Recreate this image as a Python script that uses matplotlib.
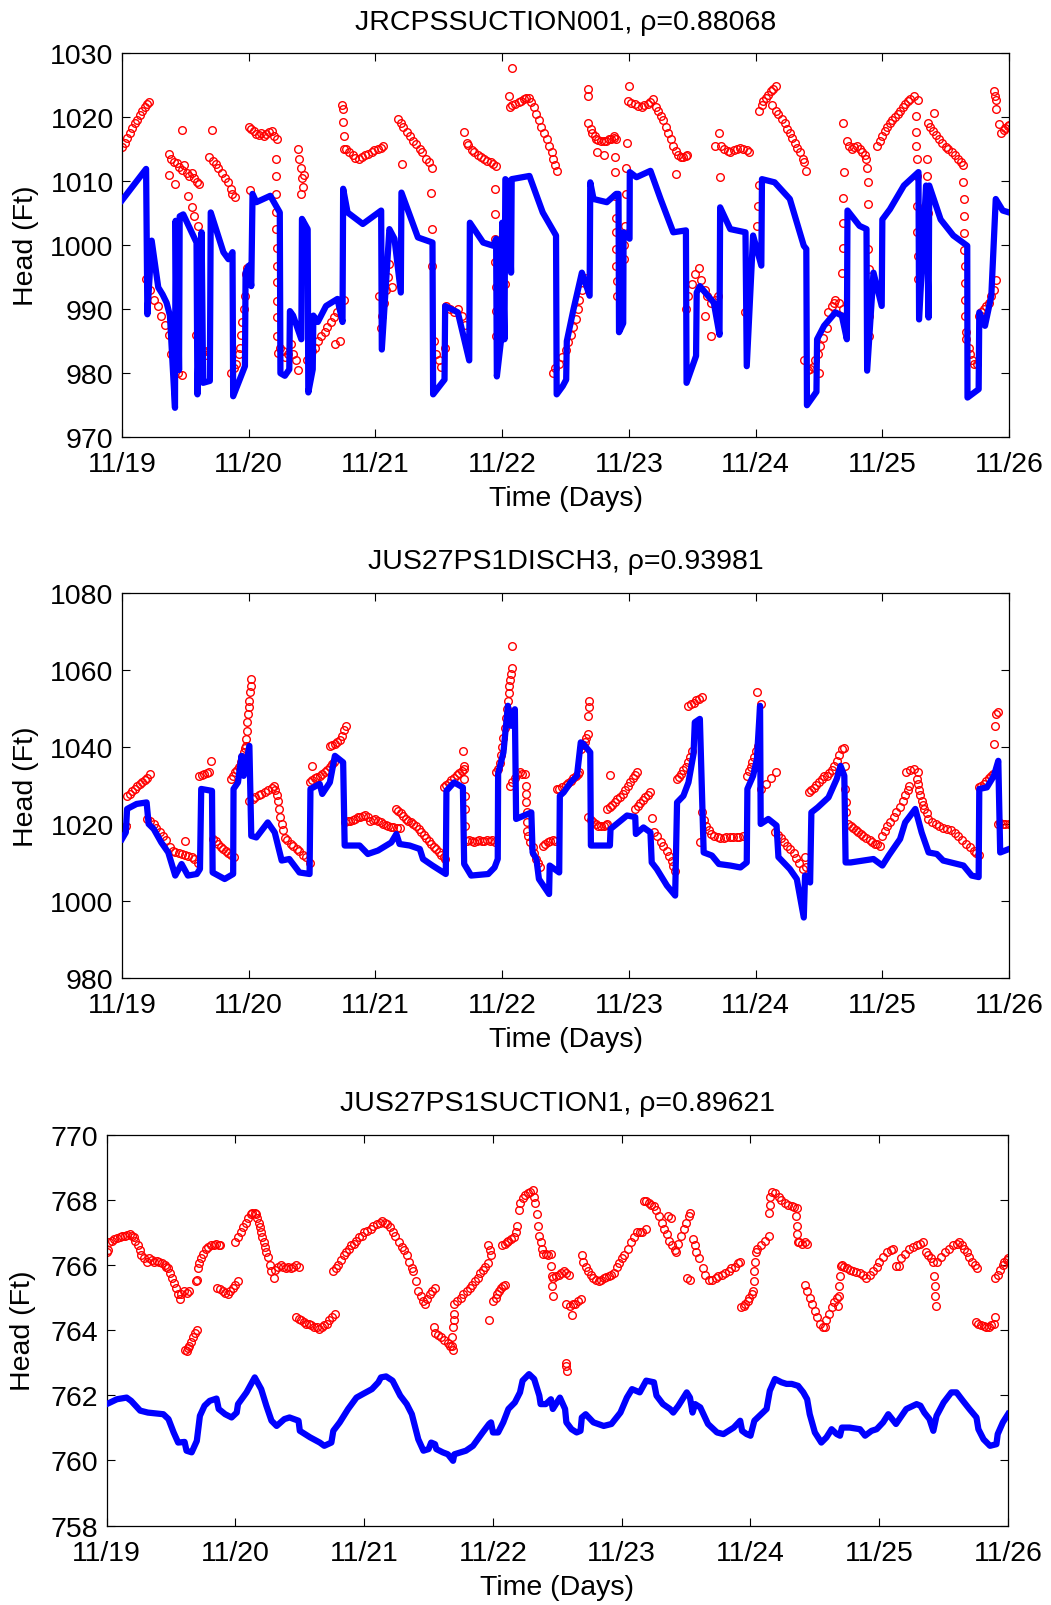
import numpy as np
import matplotlib
matplotlib.use('Agg')
import matplotlib.pyplot as plt

plt.rcParams['font.family'] = ['Liberation Sans', 'DejaVu Sans']

# x axis: days since 11/19
day_ticks = [0, 1, 2, 3, 4, 5, 6, 7]
day_labels = ['11/19', '11/20', '11/21', '11/22', '11/23', '11/24', '11/25', '11/26']

titles = ['JRCPSSUCTION001, \u03c1=0.88068',
          'JUS27PS1DISCH3, \u03c1=0.93981',
          'JUS27PS1SUCTION1, \u03c1=0.89621']

# ---------------- panel 1 : JRCPSSUCTION001 ----------------
sim1 = [(0.00, 1007.0), (0.19, 1011.9), (0.20, 989.2), (0.234, 1000.7), (0.286, 993.4),
        (0.32, 992.3), (0.352, 991.0), (0.378, 989.0), (0.418, 974.6), (0.423, 1003.8),
        (0.433, 981.0), (0.437, 1003.5), (0.45, 980.5), (0.455, 1004.5), (0.483, 1004.8),
        (0.588, 1000.4), (0.595, 976.7), (0.628, 1002.0), (0.64, 978.5), (0.693, 978.8),
        (0.70, 1005.1), (0.80, 998.9), (0.84, 997.8), (0.872, 998.9), (0.877, 976.4),
        (0.97, 981.1), (0.975, 995.7), (1.0, 996.8), (1.02, 993.6), (1.03, 1008.0),
        (1.06, 1006.7), (1.17, 1007.7), (1.245, 1005.1), (1.25, 980.0), (1.285, 979.6),
        (1.32, 980.6), (1.325, 989.7), (1.35, 989.0), (1.415, 985.3), (1.42, 1004.1),
        (1.465, 1002.5), (1.47, 977.0), (1.505, 980.6), (1.51, 989.0), (1.545, 988.0),
        (1.61, 990.5), (1.70, 991.6), (1.74, 988.0), (1.745, 1008.8), (1.78, 1005.1),
        (1.90, 1003.3), (2.045, 1005.4), (2.05, 983.7), (2.11, 1002.5), (2.15, 1001.0),
        (2.20, 992.6), (2.205, 1008.2), (2.335, 1001.2), (2.45, 1000.4), (2.455, 976.7),
        (2.545, 979.0), (2.55, 990.5), (2.60, 990.0), (2.65, 989.5), (2.74, 982.0),
        (2.745, 1003.5), (2.85, 1000.4), (2.93, 999.9), (2.952, 1001.0), (2.958, 979.5),
        (2.99, 985.0), (3.0, 1003.5), (3.018, 985.3), (3.025, 1010.3), (3.05, 1009.8),
        (3.07, 995.7), (3.075, 1010.3), (3.215, 1010.8), (3.32, 1005.1), (3.425, 1001.5),
        (3.43, 976.7), (3.478, 978.0), (3.505, 979.0), (3.51, 985.0), (3.563, 990.0),
        (3.629, 995.7), (3.69, 992.1), (3.695, 1009.8), (3.721, 1007.2), (3.826, 1006.7),
        (3.90, 1008.0), (3.918, 1008.0), (3.922, 986.4), (3.955, 987.8), (3.958, 1002.0),
        (4.005, 1001.0), (4.007, 1011.4), (4.06, 1010.6), (4.17, 1011.6), (4.25, 1007.2),
        (4.35, 1002.0), (4.45, 1002.3), (4.455, 978.5), (4.53, 982.7), (4.535, 992.6),
        (4.56, 993.6), (4.67, 991.0), (4.715, 986.0), (4.72, 1005.9), (4.80, 1002.5),
        (4.92, 1002.0), (4.93, 981.1), (4.98, 1001.5), (5.045, 996.8), (5.05, 1010.3),
        (5.15, 1009.8), (5.27, 1007.2), (5.38, 999.9), (5.40, 999.4), (5.405, 975.0),
        (5.48, 977.1), (5.485, 985.3), (5.54, 987.4), (5.63, 989.5), (5.68, 989.0),
        (5.72, 985.3), (5.725, 1005.4), (5.82, 1003.0), (5.875, 1002.5), (5.88, 980.4),
        (5.93, 995.7), (5.995, 990.5), (6.0, 1004.0), (6.06, 1005.6), (6.17, 1009.3),
        (6.285, 1011.4), (6.29, 988.4), (6.345, 1009.3), (6.365, 988.7), (6.37, 1009.3),
        (6.46, 1004.0), (6.56, 1001.5), (6.67, 999.9), (6.672, 976.2), (6.76, 977.5),
        (6.765, 989.5), (6.81, 987.4), (6.86, 992.1), (6.895, 1007.2), (6.95, 1005.4),
        (7.0, 1005.1)]

obs1 = [(0.00, 1015.3), (0.02, 1016.0), (0.04, 1016.8), (0.06, 1017.5), (0.08, 1018.3),
        (0.10, 1019.0), (0.12, 1019.6), (0.14, 1020.3), (0.16, 1021.0), (0.18, 1021.5),
        (0.20, 1022.0), (0.21, 1022.3),
        (0.19, 994.7), (0.22, 993.0), (0.25, 991.5), (0.28, 990.5), (0.31, 989.0),
        (0.34, 987.5), (0.37, 986.0), (0.39, 983.0), (0.41, 981.5), (0.44, 980.0), (0.47, 979.8),
        (0.37, 1014.2), (0.39, 1013.5), (0.41, 1013.0), (0.43, 1012.8), (0.45, 1012.2),
        (0.47, 1011.8), (0.49, 1012.5), (0.51, 1011.3), (0.53, 1010.8), (0.55, 1011.2),
        (0.57, 1010.5), (0.59, 1009.8), (0.61, 1009.5), (0.37, 1011.0), (0.42, 1009.5),
        (0.47, 1018.0), (0.52, 1007.7), (0.55, 1006.0), (0.57, 1004.5), (0.60, 1003.0), (0.71, 1018.0),
        (0.58, 986.0), (0.60, 984.5), (0.62, 983.2), (0.64, 983.5), (0.66, 982.8), (0.67, 983.5),
        (0.69, 1013.7), (0.72, 1013.2), (0.74, 1012.6), (0.76, 1012.0), (0.79, 1011.2),
        (0.81, 1010.5), (0.84, 1009.8), (0.86, 1008.8), (0.87, 1008.0), (0.89, 1007.5),
        (0.86, 980.0), (0.88, 980.8), (0.90, 981.5), (0.92, 983.0), (0.93, 984.0), (0.94, 986.0),
        (0.95, 988.0), (0.96, 990.0), (0.97, 992.0), (0.98, 995.5), (0.99, 996.5),
        (1.00, 1018.5), (1.02, 1018.2), (1.04, 1017.8), (1.06, 1017.3), (1.08, 1017.2),
        (1.10, 1017.5), (1.12, 1017.0), (1.14, 1017.3), (1.16, 1017.6), (1.18, 1017.8),
        (1.20, 1017.0), (1.22, 1016.5), (1.01, 1008.6),
        (1.215, 1013.4), (1.216, 1010.8), (1.217, 1008.0), (1.218, 1005.1), (1.219, 1002.5),
        (1.22, 999.6), (1.221, 996.8), (1.222, 994.2), (1.223, 991.3), (1.224, 988.7), (1.225, 985.8),
        (1.23, 983.2), (1.25, 984.0), (1.27, 983.5), (1.29, 982.5), (1.31, 983.0), (1.33, 984.5),
        (1.35, 983.0), (1.37, 982.0), (1.39, 980.5),
        (1.39, 1015.0), (1.40, 1013.5), (1.41, 1012.0), (1.42, 1010.5), (1.43, 1009.0),
        (1.41, 1008.0), (1.44, 1011.0),
        (1.46, 982.0), (1.48, 982.8), (1.50, 983.5), (1.52, 984.0), (1.55, 985.0), (1.57, 985.8),
        (1.60, 986.5), (1.62, 987.2), (1.65, 988.0), (1.67, 988.8), (1.70, 989.5), (1.72, 990.5),
        (1.75, 991.5), (1.68, 984.5), (1.72, 985.0),
        (1.735, 1021.8), (1.74, 1021.3), (1.745, 1019.2), (1.75, 1017.1), (1.755, 1015.0),
        (1.77, 1015.0), (1.79, 1014.5), (1.82, 1014.0), (1.84, 1013.6), (1.87, 1013.5),
        (1.89, 1013.7), (1.92, 1014.0), (1.94, 1014.3), (1.97, 1014.5), (1.99, 1014.8),
        (2.02, 1015.0), (2.04, 1015.2), (2.06, 1015.5),
        (2.03, 992.0), (2.05, 989.0), (2.07, 991.0), (2.08, 993.0), (2.10, 995.0), (2.11, 997.0),
        (2.13, 993.5), (2.04, 987.0),
        (2.18, 1019.7), (2.20, 1019.0), (2.22, 1018.5), (2.25, 1017.6), (2.27, 1017.0),
        (2.30, 1016.3), (2.32, 1015.8), (2.35, 1015.0), (2.37, 1014.5), (2.40, 1013.5),
        (2.42, 1013.0), (2.45, 1012.0), (2.21, 1012.7),
        (2.44, 1008.2), (2.445, 1002.5), (2.45, 996.8),
        (2.46, 985.0), (2.48, 983.0), (2.50, 982.0), (2.52, 981.0), (2.55, 984.0),
        (2.56, 990.5), (2.59, 990.0), (2.62, 989.5), (2.65, 990.0), (2.68, 989.0), (2.71, 987.5),
        (2.70, 1017.6), (2.72, 1016.0), (2.73, 1015.6), (2.76, 1014.8), (2.78, 1014.5),
        (2.81, 1014.0), (2.83, 1013.7), (2.86, 1013.4), (2.88, 1013.2), (2.91, 1012.9),
        (2.93, 1012.6), (2.95, 1012.3),
        (2.94, 1008.8), (2.942, 1004.8), (2.944, 1000.9), (2.946, 997.3), (2.948, 993.4),
        (2.95, 989.7), (2.952, 985.8),
        (2.96, 1000.0), (2.98, 998.0), (3.00, 996.0), (3.02, 994.0), (3.03, 998.0),
        (3.05, 1023.3), (3.06, 1021.5), (3.08, 1021.8), (3.10, 1022.0), (3.13, 1022.3),
        (3.15, 1022.5), (3.17, 1022.8), (3.19, 1023.0), (3.075, 1027.6),
        (3.21, 1023.0), (3.23, 1022.3), (3.25, 1021.5), (3.27, 1020.5), (3.29, 1019.5),
        (3.31, 1018.5), (3.33, 1017.5), (3.35, 1016.5), (3.37, 1015.5), (3.39, 1014.5),
        (3.40, 1013.5), (3.42, 1012.5), (3.43, 1011.5),
        (3.40, 980.0), (3.42, 980.8), (3.45, 981.5), (3.47, 982.5), (3.50, 983.7), (3.52, 984.8),
        (3.54, 986.0), (3.56, 987.2), (3.58, 988.5), (3.60, 990.0), (3.61, 991.5), (3.63, 993.0),
        (3.65, 994.8),
        (3.675, 1024.4), (3.68, 1023.3),
        (3.68, 1019.0), (3.70, 1018.2), (3.71, 1017.5), (3.73, 1017.0), (3.74, 1016.5),
        (3.76, 1016.4), (3.78, 1016.3), (3.80, 1016.2), (3.82, 1016.3), (3.84, 1016.5),
        (3.86, 1016.5), (3.88, 1016.8), (3.90, 1016.5), (3.75, 1014.5), (3.80, 1014.0),
        (3.885, 1017.0), (3.888, 1013.7), (3.89, 1011.4), (3.893, 1007.7), (3.895, 1004.3),
        (3.897, 1002.0), (3.90, 999.4), (3.902, 996.8), (3.904, 994.4), (3.906, 992.1),
        (3.96, 997.8), (3.965, 1000.0), (3.97, 1003.0), (3.975, 1008.0), (3.98, 1012.0), (3.985, 1016.0),
        (3.99, 1022.5), (4.00, 1024.9), (4.02, 1022.2), (4.05, 1022.0), (4.07, 1021.7),
        (4.10, 1021.5), (4.12, 1021.8), (4.15, 1022.0), (4.17, 1022.3), (4.19, 1022.8),
        (4.21, 1021.5), (4.23, 1021.0), (4.25, 1020.2), (4.27, 1019.5), (4.29, 1018.5),
        (4.31, 1017.5), (4.33, 1016.5), (4.35, 1015.5), (4.37, 1014.7), (4.39, 1014.0),
        (4.41, 1013.8), (4.43, 1013.8), (4.45, 1013.9), (4.46, 1014.0), (4.37, 1011.1),
        (4.45, 990.0), (4.47, 992.0), (4.50, 994.0), (4.52, 995.5), (4.55, 996.5), (4.57, 994.5),
        (4.60, 993.0), (4.62, 992.0), (4.65, 991.0), (4.68, 991.5), (4.70, 992.0), (4.65, 985.8),
        (4.60, 989.0),
        (4.68, 1015.5), (4.71, 1017.5), (4.73, 1015.5), (4.75, 1015.0), (4.78, 1014.7),
        (4.80, 1014.5), (4.83, 1014.8), (4.85, 1015.0), (4.88, 1015.2), (4.90, 1015.0),
        (4.93, 1014.8), (4.95, 1014.5), (4.72, 1010.6),
        (4.92, 989.5), (5.01, 1003.0), (5.02, 1006.1), (5.03, 1009.4),
        (5.03, 1021.0), (5.05, 1021.8), (5.06, 1022.5), (5.08, 1023.0), (5.10, 1023.5),
        (5.12, 1024.0), (5.14, 1024.4), (5.16, 1024.8),
        (5.13, 1021.8), (5.16, 1021.0), (5.18, 1020.5), (5.21, 1019.7), (5.23, 1019.0),
        (5.25, 1018.2), (5.27, 1017.5), (5.29, 1016.7), (5.31, 1016.0), (5.33, 1015.2),
        (5.35, 1014.5), (5.37, 1013.5), (5.38, 1013.0), (5.40, 1011.5),
        (5.38, 982.0), (5.41, 980.5), (5.43, 980.7), (5.45, 981.0), (5.47, 982.0), (5.49, 983.0),
        (5.51, 984.2), (5.53, 985.5), (5.56, 987.0), (5.50, 980.0),
        (5.57, 989.5), (5.60, 990.5), (5.62, 991.0), (5.63, 991.5), (5.66, 991.0), (5.69, 990.0),
        (5.685, 995.7), (5.688, 999.6), (5.69, 1003.5), (5.692, 1007.3), (5.695, 1011.4),
        (5.69, 1019.0), (5.72, 1016.2), (5.74, 1015.5), (5.76, 1015.0), (5.78, 1015.3),
        (5.80, 1015.5), (5.82, 1015.0), (5.84, 1014.5), (5.86, 1014.0), (5.87, 1013.5), (5.88, 1012.0),
        (5.885, 1009.8), (5.887, 1006.4), (5.889, 999.4), (5.891, 996.3), (5.893, 992.6),
        (5.895, 989.0), (5.897, 985.8),
        (5.96, 1015.5), (5.98, 1016.2), (6.00, 1017.0), (6.02, 1017.8), (6.04, 1018.5),
        (6.06, 1019.0), (6.08, 1019.5), (6.10, 1020.0), (6.12, 1020.5), (6.14, 1021.0),
        (6.16, 1021.5), (6.18, 1022.0), (6.20, 1022.5), (6.22, 1022.8), (6.25, 1023.3), (6.28, 1022.6),
        (6.265, 1020.2), (6.267, 1017.6), (6.269, 1015.5), (6.271, 1013.4), (6.273, 1010.8),
        (6.275, 1006.1), (6.277, 1002.0), (6.279, 998.3), (6.281, 994.7),
        (6.36, 1019.0), (6.38, 1018.5), (6.40, 1017.8), (6.42, 1017.2), (6.45, 1016.5),
        (6.47, 1016.0), (6.50, 1015.3), (6.52, 1015.0), (6.55, 1014.5), (6.57, 1014.0),
        (6.60, 1013.5), (6.62, 1013.0), (6.64, 1012.5), (6.41, 1020.7),
        (6.352, 1013.4), (6.354, 1010.8), (6.356, 1008.6), (6.358, 1005.0),
        (6.64, 1009.8), (6.642, 1007.2), (6.644, 1004.5), (6.646, 1001.9), (6.648, 999.3),
        (6.65, 996.7), (6.652, 994.1), (6.654, 991.5), (6.656, 988.9), (6.658, 986.4),
        (6.66, 985.3), (6.68, 984.0), (6.69, 983.0), (6.71, 982.0), (6.72, 981.5), (6.75, 981.5),
        (6.76, 989.0), (6.78, 989.5), (6.80, 990.0), (6.82, 990.5), (6.84, 991.0), (6.86, 992.0),
        (6.88, 993.0), (6.90, 994.5),
        (6.885, 1024.1), (6.89, 1023.3), (6.895, 1022.6), (6.90, 1021.2),
        (6.92, 1018.9), (6.94, 1017.5), (6.96, 1018.0), (6.97, 1018.3), (6.99, 1018.6), (7.00, 1018.8)]

# ---------------- panel 2 : JUS27PS1DISCH3 ----------------
sim2 = [(0.0, 1016.2), (0.03, 1017.9), (0.04, 1024.0), (0.115, 1025.3), (0.194, 1025.7),
        (0.21, 1020.1), (0.25, 1018.8), (0.31, 1015.3), (0.365, 1012.7), (0.42, 1006.7),
        (0.47, 1009.7), (0.52, 1006.7), (0.59, 1007.1), (0.615, 1008.4), (0.625, 1029.2),
        (0.71, 1028.7), (0.715, 1007.5), (0.81, 1005.8), (0.877, 1007.1), (0.88, 1029.2),
        (0.915, 1030.9), (0.943, 1037.8), (0.96, 1032.6), (1.005, 1040.4), (1.02, 1017.0),
        (1.06, 1016.6), (1.15, 1020.5), (1.205, 1017.9), (1.26, 1010.6), (1.32, 1011.0),
        (1.40, 1007.5), (1.48, 1007.1), (1.487, 1029.2), (1.56, 1030.5), (1.58, 1027.9),
        (1.64, 1030.9), (1.68, 1037.8), (1.745, 1036.1), (1.757, 1014.5), (1.875, 1014.5),
        (1.94, 1012.3), (2.02, 1013.2), (2.125, 1015.3), (2.165, 1017.5), (2.19, 1014.9),
        (2.27, 1014.5), (2.35, 1013.6), (2.375, 1011.0), (2.45, 1009.3), (2.555, 1007.1),
        (2.56, 1028.7), (2.62, 1030.9), (2.69, 1029.6), (2.70, 1009.7), (2.755, 1006.7),
        (2.89, 1007.1), (2.94, 1008.8), (2.965, 1011.0), (2.968, 1033.1), (3.01, 1038.7),
        (3.03, 1045.6), (3.045, 1050.8), (3.07, 1045.6), (3.10, 1049.9), (3.11, 1021.4),
        (3.23, 1023.1), (3.24, 1012.7), (3.27, 1011.0), (3.29, 1005.8), (3.37, 1001.9),
        (3.375, 1009.3), (3.45, 1007.5), (3.455, 1027.4), (3.485, 1028.3), (3.54, 1030.9),
        (3.59, 1032.6), (3.62, 1041.3), (3.64, 1040.9), (3.695, 1038.7), (3.70, 1014.5),
        (3.85, 1014.5), (3.855, 1018.8), (3.985, 1022.3), (4.05, 1021.9), (4.055, 1017.5),
        (4.115, 1019.2), (4.17, 1017.9), (4.18, 1010.1), (4.22, 1008.4), (4.30, 1004.1),
        (4.365, 1001.5), (4.38, 1025.7), (4.43, 1027.4), (4.47, 1030.9), (4.51, 1038.3),
        (4.52, 1046.5), (4.56, 1047.4), (4.59, 1012.7), (4.655, 1011.9), (4.71, 1009.7),
        (4.80, 1009.3), (4.88, 1008.8), (4.93, 1010.1), (4.935, 1029.2), (4.98, 1032.6),
        (5.01, 1037.0), (5.035, 1050.8), (5.04, 1020.1), (5.10, 1021.4), (5.165, 1019.7),
        (5.18, 1011.5), (5.27, 1008.4), (5.325, 1005.8), (5.38, 995.8), (5.39, 1006.7),
        (5.43, 1004.9), (5.44, 1023.1), (5.49, 1024.4), (5.575, 1027.0), (5.64, 1031.8),
        (5.67, 1035.2), (5.70, 1032.6), (5.71, 1010.1), (5.75, 1010.1), (5.93, 1011.0),
        (6.0, 1009.3), (6.05, 1011.9), (6.14, 1016.2), (6.18, 1020.5), (6.26, 1024.0),
        (6.31, 1017.9), (6.365, 1012.7), (6.43, 1012.3), (6.48, 1010.6), (6.64, 1009.3),
        (6.705, 1006.7), (6.76, 1006.3), (6.765, 1029.2), (6.825, 1029.6), (6.88, 1032.6),
        (6.915, 1036.5), (6.93, 1012.7), (7.0, 1013.6)]

obs2 = [(0.00, 1017.9), (0.015, 1018.8), (0.03, 1019.7),
        (0.04, 1027.4), (0.06, 1028.0), (0.08, 1028.7), (0.10, 1029.3), (0.12, 1029.9),
        (0.14, 1030.5), (0.16, 1031.0), (0.18, 1031.5), (0.20, 1032.0), (0.22, 1033.0),
        (0.20, 1021.4), (0.22, 1021.0), (0.25, 1020.0), (0.27, 1019.0), (0.30, 1018.0),
        (0.32, 1017.0), (0.35, 1016.0), (0.38, 1014.0),
        (0.40, 1013.0), (0.42, 1012.8), (0.45, 1012.6), (0.47, 1012.3), (0.50, 1012.0),
        (0.52, 1011.8), (0.55, 1011.5), (0.57, 1011.0), (0.60, 1010.0), (0.50, 1015.8),
        (0.61, 1032.6), (0.63, 1032.8), (0.65, 1033.0), (0.67, 1033.3), (0.69, 1033.5), (0.70, 1036.5),
        (0.72, 1016.2), (0.74, 1015.6), (0.76, 1015.0), (0.78, 1014.2), (0.80, 1013.5),
        (0.82, 1013.0), (0.84, 1012.5), (0.86, 1012.0), (0.88, 1011.5),
        (0.86, 1031.8), (0.875, 1032.6), (0.89, 1033.5), (0.905, 1034.2), (0.92, 1035.0),
        (0.935, 1036.3), (0.95, 1037.5), (0.96, 1038.7), (0.97, 1039.8),
        (0.975, 1040.4), (0.98, 1042.2), (0.985, 1044.3), (0.99, 1046.5), (0.995, 1048.7),
        (1.0, 1050.4), (1.005, 1052.1), (1.01, 1054.3), (1.015, 1056.0), (1.02, 1057.7),
        (1.00, 1026.1), (1.03, 1026.5), (1.05, 1027.0), (1.08, 1027.5), (1.10, 1028.0),
        (1.13, 1028.5), (1.15, 1029.0), (1.18, 1029.5), (1.20, 1029.9),
        (1.21, 1029.0), (1.22, 1027.5), (1.23, 1026.0), (1.24, 1024.0), (1.25, 1022.0),
        (1.26, 1020.0), (1.27, 1018.5), (1.29, 1016.5),
        (1.30, 1016.0), (1.33, 1015.0), (1.35, 1014.5), (1.38, 1013.7), (1.40, 1013.0),
        (1.43, 1012.0), (1.45, 1011.5), (1.48, 1010.0),
        (1.48, 1031.0), (1.50, 1031.5), (1.52, 1032.0), (1.54, 1032.2), (1.56, 1032.5),
        (1.58, 1033.0), (1.60, 1033.5), (1.62, 1034.2), (1.64, 1035.0), (1.66, 1035.8),
        (1.67, 1036.3), (1.50, 1035.2),
        (1.645, 1040.4), (1.66, 1040.7), (1.68, 1041.0), (1.70, 1041.5), (1.72, 1042.0),
        (1.735, 1043.0), (1.75, 1044.5), (1.765, 1045.6),
        (1.76, 1020.5), (1.78, 1020.8), (1.80, 1021.0), (1.82, 1021.2), (1.84, 1021.5),
        (1.86, 1021.8), (1.88, 1022.0), (1.90, 1022.2), (1.92, 1022.5), (1.94, 1021.8),
        (1.96, 1021.0), (1.98, 1021.2), (2.00, 1021.5),
        (2.02, 1021.0), (2.04, 1020.5), (2.06, 1020.0), (2.08, 1019.8), (2.10, 1019.5),
        (2.12, 1019.4), (2.14, 1019.3), (2.17, 1019.1), (2.19, 1019.0),
        (2.16, 1024.0), (2.18, 1023.5), (2.20, 1023.0), (2.22, 1022.2), (2.24, 1021.5),
        (2.26, 1021.0), (2.28, 1020.5), (2.30, 1020.0), (2.32, 1019.5), (2.34, 1018.8),
        (2.36, 1018.0), (2.38, 1017.2), (2.40, 1016.5), (2.42, 1015.7), (2.44, 1015.0),
        (2.46, 1014.2), (2.48, 1013.5), (2.50, 1012.7), (2.52, 1012.0), (2.54, 1011.5), (2.55, 1011.0),
        (2.54, 1029.6), (2.56, 1030.2), (2.58, 1030.8), (2.60, 1031.4), (2.62, 1032.0),
        (2.64, 1032.7), (2.66, 1033.4), (2.68, 1033.8), (2.70, 1034.3), (2.69, 1039.1),
        (2.70, 1035.2), (2.702, 1031.8), (2.704, 1027.4), (2.706, 1024.0), (2.708, 1019.7),
        (2.72, 1015.8), (2.74, 1016.0), (2.76, 1015.7), (2.78, 1015.5), (2.80, 1015.8),
        (2.82, 1016.0), (2.84, 1015.8), (2.86, 1015.6), (2.88, 1016.0), (2.90, 1015.8),
        (2.92, 1016.0), (2.94, 1015.5),
        (2.95, 1033.5), (2.965, 1034.5), (2.98, 1036.0), (2.99, 1038.0), (3.00, 1040.0),
        (3.01, 1042.5), (3.02, 1045.0), (3.03, 1047.5), (3.04, 1050.0), (3.045, 1052.0),
        (3.05, 1054.0), (3.055, 1056.0), (3.06, 1057.5), (3.07, 1059.0), (3.08, 1060.5), (3.08, 1066.4),
        (3.06, 1030.0), (3.08, 1031.0), (3.10, 1032.0), (3.12, 1033.0), (3.14, 1033.5),
        (3.16, 1033.2), (3.18, 1033.0),
        (3.185, 1030.0), (3.187, 1027.9), (3.19, 1025.7), (3.192, 1023.1), (3.195, 1020.5), (3.197, 1018.4),
        (3.20, 1017.0), (3.22, 1015.5), (3.24, 1014.0), (3.255, 1012.5), (3.27, 1011.0),
        (3.285, 1010.0), (3.30, 1009.0),
        (3.32, 1014.5), (3.34, 1015.0), (3.36, 1015.5), (3.38, 1015.8), (3.40, 1016.0), (3.42, 1015.8),
        (3.43, 1029.2), (3.45, 1029.3), (3.47, 1029.7), (3.50, 1030.2), (3.52, 1030.8),
        (3.54, 1031.3), (3.56, 1032.0), (3.58, 1032.6), (3.60, 1033.0), (3.61, 1033.5),
        (3.62, 1039.5), (3.635, 1040.5), (3.65, 1041.5), (3.665, 1042.5), (3.68, 1043.5),
        (3.68, 1048.2), (3.683, 1050.4), (3.686, 1052.1),
        (3.68, 1021.9), (3.70, 1021.2), (3.72, 1020.5), (3.74, 1020.0), (3.76, 1019.5),
        (3.78, 1019.5), (3.80, 1019.5), (3.82, 1019.8), (3.83, 1020.0),
        (3.85, 1032.9),
        (3.83, 1024.0), (3.85, 1024.5), (3.87, 1025.0), (3.89, 1025.7), (3.91, 1026.5),
        (3.93, 1027.2), (3.95, 1028.0), (3.97, 1029.0), (3.99, 1030.0), (4.01, 1031.0),
        (4.03, 1032.0), (4.05, 1032.8), (4.06, 1033.5),
        (4.05, 1024.0), (4.07, 1024.7), (4.09, 1025.5), (4.11, 1026.2), (4.13, 1027.0),
        (4.15, 1027.7), (4.17, 1028.5), (4.18, 1021.6),
        (4.20, 1017.9), (4.22, 1016.9), (4.25, 1015.5), (4.27, 1014.5), (4.30, 1013.0),
        (4.32, 1011.7), (4.34, 1010.5), (4.35, 1009.3), (4.365, 1008.0),
        (4.38, 1031.8), (4.395, 1032.4), (4.41, 1033.0), (4.43, 1034.0), (4.45, 1035.0),
        (4.465, 1036.3), (4.48, 1037.5), (4.50, 1039.0),
        (4.47, 1050.8), (4.49, 1051.2), (4.51, 1051.6), (4.53, 1052.2), (4.55, 1052.6), (4.58, 1053.0),
        (4.58, 1023.1), (4.595, 1021.2), (4.61, 1019.5), (4.63, 1018.5), (4.65, 1017.5),
        (4.67, 1017.0), (4.70, 1016.6), (4.72, 1016.5), (4.75, 1016.5), (4.77, 1016.6),
        (4.80, 1016.6), (4.82, 1016.7), (4.85, 1016.6), (4.87, 1016.8), (4.90, 1017.0), (4.56, 1015.3),
        (4.93, 1032.6), (4.945, 1033.8), (4.96, 1035.0), (4.975, 1036.2), (4.99, 1037.5),
        (5.005, 1039.0), (5.02, 1040.4), (5.01, 1054.3), (5.04, 1051.3),
        (5.04, 1029.2), (5.08, 1030.5), (5.12, 1032.0), (5.16, 1033.5),
        (5.15, 1017.9), (5.175, 1017.2), (5.20, 1016.5), (5.225, 1015.5), (5.25, 1014.5),
        (5.275, 1013.5), (5.30, 1012.5), (5.32, 1011.2), (5.34, 1010.0), (5.37, 1008.5),
        (5.39, 1011.5), (5.40, 1009.0),
        (5.42, 1028.3), (5.44, 1028.9), (5.46, 1029.5), (5.48, 1030.2), (5.50, 1031.0),
        (5.52, 1031.8), (5.54, 1032.5),
        (5.56, 1032.6), (5.58, 1033.3), (5.60, 1034.0), (5.62, 1035.2), (5.64, 1036.5),
        (5.66, 1038.0), (5.68, 1039.5), (5.70, 1039.8),
        (5.705, 1035.2), (5.708, 1029.2), (5.71, 1025.7), (5.712, 1023.1),
        (5.73, 1020.1), (5.75, 1019.5), (5.77, 1019.0), (5.79, 1018.5), (5.81, 1018.0),
        (5.83, 1017.5), (5.85, 1017.0), (5.87, 1016.5), (5.90, 1016.0), (5.92, 1015.5),
        (5.94, 1015.0), (5.96, 1014.8), (5.98, 1014.5),
        (6.00, 1017.0), (6.02, 1018.2), (6.04, 1019.5), (6.06, 1020.5), (6.09, 1022.0),
        (6.11, 1023.2), (6.14, 1024.5), (6.16, 1026.0), (6.18, 1027.5), (6.20, 1028.8), (6.21, 1030.0),
        (6.19, 1033.5), (6.22, 1034.0), (6.25, 1034.5), (6.28, 1033.5),
        (6.27, 1031.8), (6.28, 1030.5), (6.29, 1029.0), (6.30, 1027.5), (6.31, 1026.0),
        (6.32, 1025.0), (6.33, 1024.0), (6.35, 1023.0),
        (6.36, 1021.4), (6.39, 1020.7), (6.42, 1020.0), (6.45, 1019.5), (6.48, 1019.0),
        (6.51, 1018.8), (6.54, 1018.5), (6.57, 1017.8), (6.60, 1017.0), (6.63, 1016.0),
        (6.66, 1015.0), (6.69, 1014.0), (6.72, 1013.0), (6.74, 1012.5), (6.76, 1012.0),
        (6.76, 1029.6), (6.78, 1030.0), (6.80, 1030.5), (6.82, 1031.2), (6.84, 1032.0),
        (6.86, 1032.5), (6.87, 1033.0),
        (6.88, 1040.9), (6.89, 1045.6), (6.90, 1048.7), (6.91, 1049.1),
        (6.91, 1020.1), (6.93, 1020.3), (6.95, 1020.0), (6.97, 1020.2), (7.00, 1020.1)]

# ---------------- panel 3 : JUS27PS1SUCTION1 ----------------
sim3 = [(0.00, 761.73), (0.08, 761.88), (0.155, 761.93), (0.19, 761.83), (0.26, 761.53),
        (0.32, 761.47), (0.44, 761.42), (0.48, 761.27), (0.52, 760.86), (0.555, 760.55),
        (0.605, 760.57), (0.62, 760.30), (0.66, 760.25), (0.70, 760.60), (0.724, 761.37),
        (0.76, 761.68), (0.80, 761.83), (0.853, 761.90), (0.87, 761.58), (0.92, 761.42),
        (0.97, 761.32), (1.01, 761.47), (1.02, 761.73), (1.086, 762.09), (1.15, 762.55),
        (1.20, 762.19), (1.24, 761.68), (1.28, 761.22), (1.32, 761.06), (1.38, 761.27),
        (1.42, 761.32), (1.49, 761.22), (1.50, 760.91), (1.58, 760.71), (1.655, 760.55),
        (1.69, 760.45), (1.745, 760.55), (1.76, 760.91), (1.81, 761.17), (1.875, 761.58),
        (1.94, 761.93), (1.99, 762.04), (2.06, 762.19), (2.11, 762.40), (2.13, 762.55),
        (2.17, 762.58), (2.22, 762.45), (2.28, 761.99), (2.33, 761.73), (2.37, 761.42),
        (2.42, 760.65), (2.46, 760.30), (2.50, 760.35), (2.52, 760.55), (2.55, 760.50),
        (2.56, 760.35), (2.61, 760.25), (2.65, 760.19), (2.69, 759.99), (2.70, 760.19),
        (2.79, 760.30), (2.845, 760.45), (2.92, 760.86), (2.97, 761.12), (2.985, 761.17),
        (3.0, 760.86), (3.04, 760.86), (3.08, 761.17), (3.12, 761.58), (3.17, 761.78),
        (3.21, 762.09), (3.23, 762.45), (3.28, 762.65), (3.32, 762.50), (3.36, 761.99),
        (3.37, 761.73), (3.41, 761.73), (3.45, 761.88), (3.465, 761.58), (3.52, 761.93),
        (3.56, 761.58), (3.57, 761.17), (3.61, 760.96), (3.65, 760.86), (3.68, 760.91),
        (3.69, 761.32), (3.72, 761.42), (3.78, 761.17), (3.86, 761.06), (3.92, 761.12),
        (3.99, 761.47), (4.04, 761.93), (4.08, 762.19), (4.14, 762.09), (4.19, 762.45),
        (4.25, 762.40), (4.27, 761.99), (4.32, 761.73), (4.375, 761.58), (4.40, 761.47),
        (4.44, 761.68), (4.505, 762.09), (4.53, 761.93), (4.55, 761.47), (4.57, 761.73),
        (4.61, 761.63), (4.67, 761.12), (4.74, 760.86), (4.79, 760.81), (4.87, 761.01),
        (4.92, 761.22), (4.935, 760.91), (4.97, 760.81), (5.0, 760.76), (5.03, 761.22),
        (5.07, 761.37), (5.125, 761.58), (5.15, 762.14), (5.19, 762.50), (5.24, 762.40),
        (5.28, 762.35), (5.32, 762.35), (5.37, 762.29), (5.41, 762.09), (5.44, 761.88),
        (5.46, 761.42), (5.50, 760.86), (5.55, 760.55), (5.59, 760.71), (5.63, 760.96),
        (5.67, 760.81), (5.695, 760.76), (5.71, 761.01), (5.77, 761.01), (5.85, 760.96),
        (5.89, 760.76), (5.94, 760.91), (5.98, 760.96), (6.03, 761.17), (6.07, 761.42),
        (6.11, 761.22), (6.13, 761.12), (6.21, 761.58), (6.29, 761.73), (6.32, 761.68),
        (6.35, 761.47), (6.39, 761.27), (6.42, 760.91), (6.445, 761.37), (6.50, 761.78),
        (6.56, 762.09), (6.60, 762.09), (6.65, 761.83), (6.70, 761.58), (6.755, 761.32),
        (6.77, 760.96), (6.81, 760.65), (6.86, 760.45), (6.91, 760.50), (6.92, 760.81),
        (6.96, 761.17), (7.0, 761.42)]

obs3 = [(0.00, 766.4), (0.01, 766.45),
        (0.02, 766.7), (0.04, 766.75), (0.06, 766.8), (0.08, 766.82), (0.10, 766.85),
        (0.12, 766.88), (0.14, 766.9), (0.16, 766.92), (0.18, 766.95), (0.20, 766.9), (0.21, 766.85),
        (0.22, 766.75), (0.24, 766.6), (0.255, 766.45), (0.27, 766.3), (0.29, 766.2), (0.31, 766.1),
        (0.33, 766.2), (0.35, 766.15), (0.37, 766.1), (0.39, 766.12), (0.41, 766.1),
        (0.43, 766.05), (0.45, 766.0), (0.46, 765.95),
        (0.48, 765.9), (0.495, 765.75), (0.51, 765.6), (0.525, 765.45), (0.54, 765.3),
        (0.555, 765.1), (0.57, 764.95),
        (0.58, 765.1), (0.60, 765.2), (0.62, 765.15), (0.64, 765.2),
        (0.61, 763.4), (0.62, 763.35), (0.63, 763.45), (0.64, 763.5), (0.655, 763.65),
        (0.67, 763.8), (0.685, 763.9), (0.70, 764.0),
        (0.695, 765.5), (0.705, 765.55),
        (0.71, 765.9), (0.72, 766.05), (0.73, 766.2), (0.75, 766.35), (0.77, 766.5),
        (0.79, 766.55), (0.81, 766.6), (0.83, 766.62), (0.85, 766.65), (0.87, 766.62), (0.88, 766.6),
        (0.86, 765.3), (0.88, 765.25), (0.90, 765.2), (0.92, 765.15), (0.94, 765.1),
        (0.96, 765.2), (0.98, 765.3), (1.00, 765.4), (1.02, 765.5),
        (1.00, 766.7), (1.02, 766.85), (1.04, 767.0), (1.06, 767.15), (1.08, 767.3),
        (1.10, 767.45), (1.12, 767.55), (1.13, 767.6), (1.15, 767.58), (1.16, 767.55),
        (1.17, 767.45), (1.18, 767.3), (1.19, 767.15), (1.20, 767.0), (1.21, 766.85),
        (1.22, 766.7), (1.23, 766.55), (1.24, 766.4), (1.25, 766.25), (1.27, 766.0),
        (1.28, 765.8), (1.30, 765.6),
        (1.31, 765.85), (1.33, 765.95), (1.35, 766.0), (1.37, 765.95), (1.39, 765.9),
        (1.41, 765.95), (1.43, 765.9), (1.45, 765.95), (1.47, 766.0), (1.49, 765.95),
        (1.47, 764.4), (1.49, 764.35), (1.51, 764.3), (1.53, 764.25), (1.55, 764.2),
        (1.57, 764.2), (1.59, 764.15), (1.61, 764.1), (1.63, 764.1), (1.65, 764.05),
        (1.67, 764.1), (1.69, 764.15), (1.71, 764.2), (1.73, 764.3), (1.75, 764.4), (1.77, 764.5),
        (1.76, 765.8), (1.78, 765.9), (1.80, 766.0), (1.82, 766.15), (1.84, 766.3),
        (1.86, 766.4), (1.88, 766.5), (1.90, 766.6), (1.92, 766.65),
        (1.94, 766.75), (1.96, 766.85), (1.98, 766.9), (2.00, 767.0), (2.02, 767.05),
        (2.05, 767.1), (2.07, 767.2), (2.10, 767.25), (2.12, 767.3), (2.14, 767.35), (2.16, 767.3),
        (2.18, 767.25), (2.20, 767.15), (2.22, 767.0), (2.24, 766.9), (2.27, 766.7),
        (2.29, 766.55), (2.31, 766.45), (2.33, 766.3), (2.35, 766.1), (2.37, 765.9),
        (2.38, 765.8), (2.40, 765.5), (2.42, 765.2), (2.44, 765.05), (2.46, 764.9),
        (2.47, 764.8), (2.49, 764.95), (2.51, 765.1), (2.53, 765.2), (2.55, 765.3),
        (2.54, 764.1), (2.55, 763.9), (2.57, 763.85), (2.60, 763.8), (2.62, 763.7),
        (2.65, 763.6), (2.67, 763.5), (2.69, 763.4),
        (2.68, 763.5), (2.685, 763.8), (2.69, 764.1), (2.695, 764.3), (2.70, 764.5),
        (2.70, 764.8), (2.72, 764.9), (2.75, 765.0), (2.77, 765.1), (2.80, 765.2),
        (2.82, 765.3), (2.84, 765.4), (2.86, 765.5), (2.88, 765.6), (2.90, 765.75),
        (2.92, 765.85), (2.94, 765.95), (2.96, 766.05),
        (2.965, 766.6), (2.975, 766.45), (2.985, 766.3), (2.97, 764.3),
        (3.00, 764.9), (3.02, 765.0), (3.03, 765.1), (3.05, 765.2), (3.06, 765.3),
        (3.08, 765.35), (3.09, 765.4),
        (3.07, 766.6), (3.09, 766.65), (3.11, 766.7), (3.12, 766.75), (3.14, 766.8),
        (3.16, 766.85), (3.18, 767.0), (3.19, 767.2),
        (3.20, 767.7), (3.21, 767.9), (3.23, 768.05), (3.25, 768.15), (3.27, 768.2),
        (3.29, 768.25), (3.31, 768.3),
        (3.32, 768.1), (3.33, 767.9), (3.34, 767.55), (3.35, 767.2), (3.36, 766.9),
        (3.37, 766.7), (3.38, 766.5),
        (3.39, 766.35), (3.41, 766.35), (3.43, 766.3), (3.45, 766.35),
        (3.45, 765.97), (3.455, 765.67), (3.46, 765.36), (3.465, 765.05),
        (3.47, 765.6), (3.49, 765.65), (3.51, 765.7), (3.53, 765.75), (3.55, 765.8),
        (3.57, 765.75), (3.59, 765.7),
        (3.565, 764.8), (3.565, 763.0), (3.57, 762.9), (3.575, 762.75),
        (3.60, 764.75), (3.62, 764.8), (3.64, 764.8), (3.66, 764.9), (3.68, 764.95), (3.61, 764.45),
        (3.69, 766.3), (3.70, 766.1), (3.72, 765.95), (3.74, 765.8), (3.76, 765.7),
        (3.78, 765.6), (3.80, 765.55), (3.82, 765.5), (3.84, 765.55), (3.86, 765.6),
        (3.88, 765.62), (3.90, 765.65), (3.92, 765.7), (3.94, 765.75),
        (3.96, 765.95), (3.98, 766.05), (4.00, 766.2), (4.02, 766.3), (4.045, 766.5),
        (4.07, 766.7), (4.095, 766.85), (4.12, 767.0), (4.14, 767.0), (4.16, 767.0), (4.19, 767.1),
        (4.17, 767.97), (4.19, 767.95), (4.21, 767.9), (4.23, 767.85), (4.25, 767.8),
        (4.27, 767.7), (4.29, 767.5), (4.31, 767.3), (4.33, 767.1), (4.35, 766.95),
        (4.37, 766.75), (4.39, 766.6), (4.41, 766.45), (4.42, 766.4),
        (4.36, 767.5), (4.38, 767.45),
        (4.44, 766.65), (4.46, 766.9), (4.48, 767.1), (4.50, 767.3), (4.52, 767.5), (4.53, 767.6),
        (4.51, 765.6), (4.53, 765.55),
        (4.55, 766.8), (4.57, 766.6), (4.58, 766.4), (4.60, 766.2), (4.63, 765.9),
        (4.65, 765.7), (4.68, 765.55), (4.70, 765.55), (4.73, 765.6), (4.75, 765.65),
        (4.78, 765.7), (4.80, 765.75), (4.83, 765.8), (4.85, 765.9), (4.88, 765.95),
        (4.90, 766.05), (4.92, 766.1),
        (4.93, 764.7), (4.95, 764.75), (4.96, 764.8), (4.98, 764.9), (4.99, 765.0),
        (5.01, 765.1), (5.02, 765.2),
        (5.025, 765.5), (5.03, 765.8), (5.035, 766.1), (5.04, 766.4),
        (5.05, 766.5), (5.08, 766.6), (5.11, 766.75), (5.14, 766.9),
        (5.145, 767.6), (5.15, 767.85), (5.155, 768.1),
        (5.17, 768.25), (5.19, 768.2), (5.22, 768.1), (5.24, 768.0), (5.27, 767.9),
        (5.29, 767.85), (5.32, 767.8), (5.34, 767.78), (5.36, 767.75),
        (5.355, 767.5), (5.36, 767.2), (5.365, 766.95), (5.37, 766.7),
        (5.38, 766.7), (5.40, 766.65), (5.42, 766.7), (5.44, 766.65),
        (5.42, 765.4), (5.44, 765.2), (5.46, 765.0), (5.48, 764.8), (5.50, 764.6),
        (5.52, 764.4), (5.54, 764.2), (5.56, 764.1), (5.58, 764.1),
        (5.59, 764.3), (5.61, 764.5), (5.63, 764.7), (5.65, 764.85), (5.67, 765.0),
        (5.68, 764.75), (5.685, 765.05), (5.69, 765.36), (5.695, 765.67), (5.70, 765.97),
        (5.71, 766.0), (5.73, 765.95), (5.75, 765.9), (5.77, 765.85), (5.80, 765.8),
        (5.82, 765.78), (5.85, 765.75), (5.87, 765.7), (5.90, 765.6), (5.93, 765.7),
        (5.95, 765.8), (5.98, 765.95), (6.00, 766.1), (6.03, 766.25), (6.06, 766.4),
        (6.09, 766.45), (6.11, 766.5),
        (6.13, 765.97), (6.15, 765.97),
        (6.17, 766.2), (6.20, 766.35), (6.23, 766.5), (6.26, 766.55), (6.29, 766.6),
        (6.32, 766.65), (6.34, 766.7),
        (6.36, 766.4), (6.38, 766.3), (6.40, 766.2), (6.42, 766.1),
        (6.425, 765.67), (6.43, 765.36), (6.435, 765.05), (6.44, 764.75),
        (6.45, 766.1), (6.48, 766.25), (6.51, 766.4), (6.54, 766.5), (6.57, 766.6),
        (6.60, 766.65), (6.62, 766.7),
        (6.64, 766.6), (6.66, 766.5), (6.68, 766.4), (6.70, 766.25), (6.72, 766.1),
        (6.74, 766.0), (6.76, 765.9),
        (6.75, 764.25), (6.77, 764.2), (6.79, 764.15), (6.81, 764.12), (6.83, 764.1),
        (6.85, 764.1), (6.87, 764.15), (6.89, 764.2), (6.90, 764.4),
        (6.90, 765.6), (6.92, 765.7), (6.94, 765.85), (6.96, 766.0), (6.97, 766.1),
        (6.99, 766.15), (7.00, 766.2)]

ylims = [(970, 1030), (980, 1080), (758, 770)]
yticks = [range(970, 1031, 10), range(980, 1081, 20), range(758, 771, 2)]

# axes rectangles in figure fraction (left, bottom, width, height)
rects = [(0.1161, 0.7271, 0.8440, 0.2393),
         (0.1161, 0.3902, 0.8440, 0.2397),
         (0.1015, 0.0494, 0.8576, 0.2435)]
title_y = [1.0816, 1.0835, 1.0806]
ylab_x = [-0.094, -0.094, -0.078]
xlab_y = [-0.123, -0.123, -0.123]

fig = plt.figure(figsize=(10.51, 16.06), dpi=100)
fs = 20.5

for i, (sim, obs) in enumerate([(sim1, obs1), (sim2, obs2), (sim3, obs3)]):
    ax = fig.add_axes(rects[i])
    ot, ov = np.array(obs).T
    st, sv = np.array(sim).T
    ax.plot(ot, ov, 'o', mfc='none', mec='red', ms=5.5, mew=1.0, zorder=2)
    ax.plot(st, sv, '-', color='blue', lw=4.5, zorder=3)

    ax.set_xlim(0, 7)
    ax.set_ylim(*ylims[i])
    ax.set_xticks(day_ticks)
    ax.set_xticklabels(day_labels)
    ax.set_yticks(list(yticks[i]))
    ax.tick_params(direction='in', top=True, right=True, length=6, width=0.8,
                   labelsize=fs)
    ax.tick_params(axis='x', pad=10)
    ax.tick_params(axis='y', pad=6)
    for s in ax.spines.values():
        s.set_linewidth(0.9)

    ax.set_title(titles[i], fontsize=fs, y=title_y[i], pad=0, va='center')
    ax.set_xlabel('Time (Days)', fontsize=fs)
    ax.xaxis.set_label_coords(0.5, xlab_y[i])
    ax.set_ylabel('Head (Ft)', fontsize=fs)
    ax.yaxis.set_label_coords(ylab_x[i], 0.5)

fig.savefig('out.png', dpi=100)
